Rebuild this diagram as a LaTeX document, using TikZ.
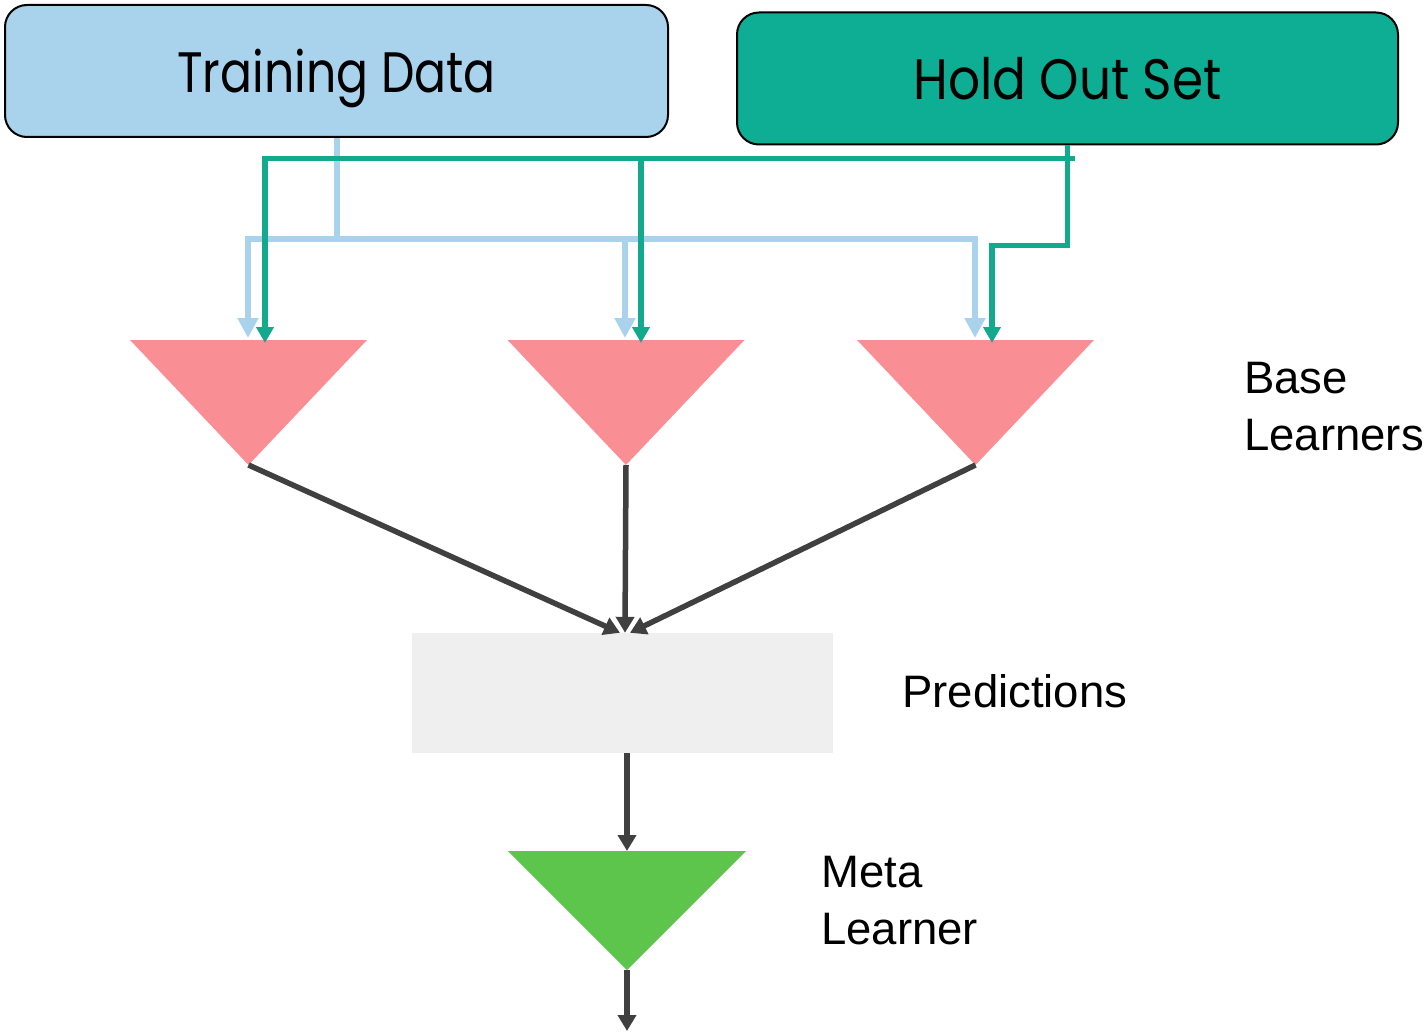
\documentclass[tikz,border=0pt]{standalone}
\usepackage{fontspec}
\usepackage{graphicx}
\setmainfont{Liberation Sans}
\newfontfamily\boxfont{Poppins}
\usetikzlibrary{arrows.meta, positioning, calc}

\definecolor{tdblue}{HTML}{A9D3EC}
\definecolor{hoteal}{HTML}{0DAE94}
\definecolor{holdcol}{HTML}{13A98D}
\definecolor{basepink}{HTML}{F98F94}
\definecolor{metagreen}{HTML}{5DC54B}
\definecolor{predgrey}{HTML}{EFEFEF}
\definecolor{arrowgrey}{HTML}{404040}

\tikzset{
  databox/.style={draw=black, line width=2pt, rounded corners=22pt,
    minimum height=132pt, text depth=0pt,
    font=\boxfont\fontsize{57}{60}\selectfont},
  trainline/.style={draw=tdblue, line width=6pt},
  holdline/.style={draw=holdcol, line width=5.5pt},
  predarrow/.style={draw=arrowgrey, line width=5.5pt, -{Triangle[length=16pt,width=18pt]}},
  lab/.style={inner sep=0pt, align=left, font=\fontsize{45.5}{57}\selectfont}
}

\begin{document}
\begin{tikzpicture}[x=1pt,y=-1pt]
\useasboundingbox (0,0) rectangle (1425,1035);

% --- Data boxes
\node[databox, fill=tdblue, minimum width=663pt] (train) at (336.5,71)
  {\scalebox{0.83}[1]{Training Data}};
\node[databox, fill=hoteal, minimum width=661pt] (hold) at (1067.5,78.5)
  {\scalebox{0.88}[1]{Hold Out Set}};

% --- Base learners
\foreach \i/\cx in {1/248.5,2/626,3/975.5}{
  \fill[basepink] (\cx-118.5,340) -- (\cx+118.5,340) -- (\cx,465) -- cycle;
  \coordinate (apex\i) at (\cx,465);
}
\coordinate (tin1) at (248,338);
\coordinate (tin2) at (625,338);
\coordinate (tin3) at (975,338);
\coordinate (hin1) at (265,343);
\coordinate (hin2) at (641,343);
\coordinate (hin3) at (992,343);

% --- Training data feed
\draw[trainline] (train.south) -- ++(0,101) coordinate (tsplit);
\foreach \i in {1,2,3}
  \draw[trainline,-{Triangle[length=20pt,width=20pt]}] (tsplit) -| (tin\i);

% --- Hold out feed
\draw[holdline] (hold.south) -- ++(0,13) coordinate (hsplit);
\draw[holdline,-{Triangle[length=16pt,width=17pt]}] (hsplit) -- ++(0,87) -| (hin3);
\draw[holdline,-{Triangle[length=16pt,width=17pt]}] ($(hsplit)+(7,0)$) -| (hin1);
\draw[holdline,-{Triangle[length=16pt,width=17pt]}] (hsplit -| hin2) -- (hin2);

% --- Predictions
\node[fill=predgrey, minimum width=421pt, minimum height=120pt, inner sep=0pt] (pred) at (622,693) {};
\draw[predarrow] (apex1) -- ([xshift=-2pt]pred.north);
\draw[predarrow] (apex2) -- ([xshift=3pt]pred.north);
\draw[predarrow] (apex3) -- ([xshift=8pt]pred.north);

% --- Meta learner
\fill[metagreen] (508,851) -- (746,851) -- (627,970) -- cycle;
\coordinate (metatop) at (627,851);
\coordinate (metaapex) at (627,970);
\coordinate (out) at (627,1031);
\draw[predarrow] (pred.south -| metatop) -- (metatop);
\draw[predarrow] (metaapex) -- (out);

% --- Labels
\node[lab, anchor=west] (baselab) at (1244,407) {Base\\Learners};
\node[lab, anchor=west] (predlab) at (902,691) {Predictions};
\node[lab, anchor=west] (metalab) at (821,901) {Meta\\Learner};

\end{tikzpicture}
\end{document}
